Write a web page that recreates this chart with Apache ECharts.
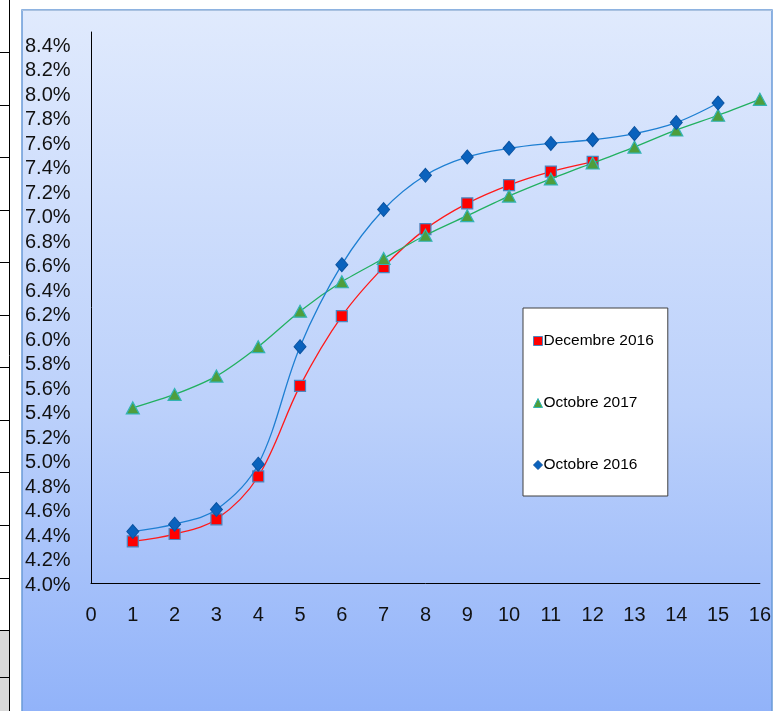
<!DOCTYPE html>
<html>
<head>
<meta charset="utf-8">
<script src="https://cdn.jsdelivr.net/npm/echarts@6/dist/echarts.min.js"></script>
<style>
html,body{margin:0;padding:0;background:#ffffff;}
#chart{width:774px;height:711px;}
</style>
</head>
<body>
<div id="chart"></div>
<script>
var xValues = [1,2,3,4,5,6,7,8,9,10,11,12,13,14,15,16];
var decembre2016 = [4.34,4.40,4.52,4.87,5.61,6.18,6.58,6.89,7.10,7.25,7.36,7.44];
var octobre2017 = [5.43,5.54,5.69,5.93,6.22,6.46,6.65,6.84,7.00,7.16,7.30,7.43,7.56,7.70,7.82,7.95];
var octobre2016 = [4.42,4.48,4.60,4.97,5.93,6.60,7.05,7.33,7.48,7.55,7.59,7.62,7.67,7.76,7.92];
var seriesNames = ['Decembre 2016','Octobre 2017','Octobre 2016'];

function pairs(vals){ return vals.map(function(v,i){ return [xValues[i], v]; }); }

var chart = echarts.init(document.getElementById('chart'));

var graphics = [];
// spreadsheet strip on the left
var rowLines = [52,105,157,210,262,315,367,420,472,525,578,630,677];
graphics.push({type:'rect', shape:{x:0,y:630,width:9,height:81}, style:{fill:'#d9d9d9'}, silent:true, z:-10});
rowLines.forEach(function(y){
  graphics.push({type:'line', shape:{x1:0,y1:y+0.5,x2:9,y2:y+0.5}, style:{stroke:'#000',lineWidth:1}, silent:true, z:-9});
});
graphics.push({type:'line', shape:{x1:9.5,y1:0,x2:9.5,y2:711}, style:{stroke:'#000',lineWidth:1}, silent:true, z:-9});
// chart area
graphics.push({type:'rect', shape:{x:22,y:10,width:750,height:720},
  style:{fill:new echarts.graphic.LinearGradient(0,0,0,1,[{offset:0,color:'#e0eafd'},{offset:0.55,color:'#bcd1fb'},{offset:1,color:'#8fb1f9'}]),
  stroke:'#6a9ad8', lineWidth:1.5}, silent:true, z:-10});
graphics.push({type:'line', shape:{x1:22,y1:10.5,x2:772,y2:10.5}, style:{stroke:'#a9c1e0',lineWidth:1}, silent:true, z:-9});

var option = {
  backgroundColor:'transparent',
  animation:false,
  graphic: graphics,
  grid:{left:91, right:14, top:32, bottom:128, containLabel:false},
  legend:{
    orient:'vertical', left:523, top:308,
    backgroundColor:'#ffffff', borderColor:'#404040', borderWidth:1,
    padding:[25,14,23,10], itemGap:46, itemWidth:9, itemHeight:9,
    textStyle:{fontFamily:'Liberation Sans, Arial', fontSize:15.5, color:'#000', padding:[0,0,0,-4]},
    data:[
      {name:seriesNames[0], icon:'rect', itemStyle:{color:'#ff0000', borderColor:'#4a86c0', borderWidth:1}},
      {name:seriesNames[1], icon:'triangle', itemStyle:{color:'#4e9e3c', borderColor:'#33b3b3', borderWidth:1}},
      {name:seriesNames[2], icon:'diamond', itemStyle:{color:'#0a62bd', borderColor:'#0a52a0', borderWidth:1}}
    ]
  },
  xAxis:{
    type:'value', min:0, max:16, interval:1,
    axisLine:{show:true, onZero:false, lineStyle:{color:'#000', width:1}},
    axisTick:{show:false},
    splitLine:{show:false},
    axisLabel:{fontFamily:'Liberation Sans, Arial', fontSize:20, color:'#111', margin:22}
  },
  yAxis:{
    type:'value', min:4.0, max:8.5, interval:0.2,
    axisLine:{show:true, onZero:false, lineStyle:{color:'#000', width:1}},
    axisTick:{show:false},
    splitLine:{show:false},
    axisLabel:{fontFamily:'Liberation Sans, Arial', fontSize:20, color:'#111', align:'left', margin:66,
      rich:{p:{fontFamily:'Liberation Sans, Arial', fontSize:20, color:'#111', padding:[4,0,0,0]}},
      formatter:function(v){
        var k = Math.round(v*10);
        if (k % 2 !== 0) return '';
        return '{p|' + v.toFixed(1) + '%}';
      }}
  },
  series:[
    {name:seriesNames[0], type:'line', data:pairs(decembre2016), smooth:0.35,
      symbol:'rect', symbolSize:11,
      lineStyle:{color:'#ff1a1a', width:1.3},
      itemStyle:{color:'#ff0000', borderColor:'#4a86c0', borderWidth:1.2}, z:2},
    {name:seriesNames[1], type:'line', data:pairs(octobre2017), smooth:0.25,
      symbol:'triangle', symbolSize:[13,12],
      lineStyle:{color:'#22b060', width:1.3},
      itemStyle:{color:'#4e9e3c', borderColor:'#33b3b3', borderWidth:1.2}, z:3},
    {name:seriesNames[2], type:'line', data:pairs(octobre2016), smooth:0.35,
      symbol:'diamond', symbolSize:[12,14],
      lineStyle:{color:'#1e7fd2', width:1.3},
      itemStyle:{color:'#0a62bd', borderColor:'#0a52a0', borderWidth:1}, z:4}
  ]
};
chart.setOption(option);
</script>
</body>
</html>
